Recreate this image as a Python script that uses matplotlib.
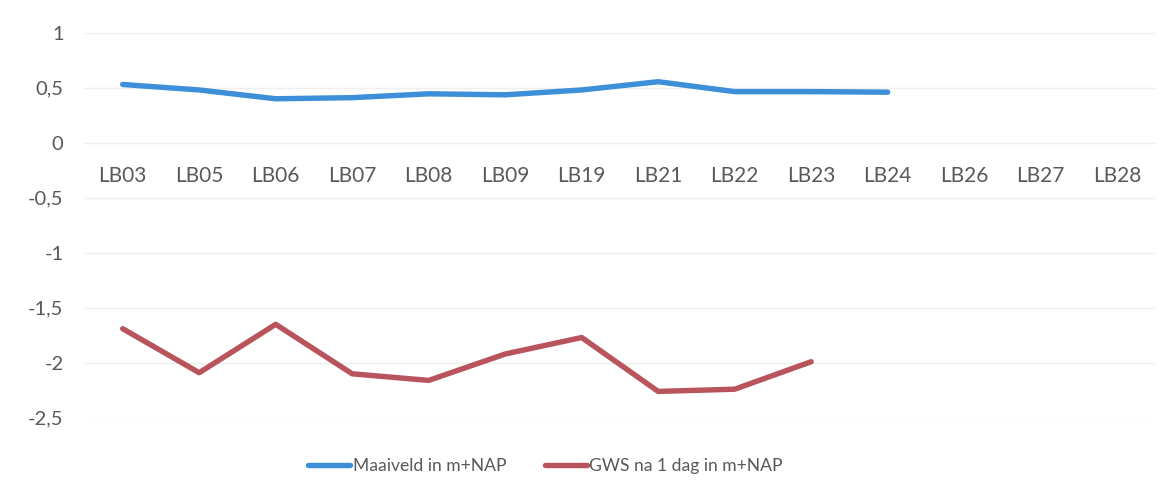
import matplotlib.pyplot as plt

# meetpunten
punten = ['LB03', 'LB05', 'LB06', 'LB07', 'LB08', 'LB09', 'LB19',
          'LB21', 'LB22', 'LB23', 'LB24', 'LB26', 'LB27', 'LB28']
maaiveld = [0.53, 0.48, 0.40, 0.41, 0.445, 0.436, 0.48, 0.555, 0.465, 0.465, 0.46]
gws_1dag = [-1.69, -2.09, -1.65, -2.10, -2.16, -1.92, -1.77, -2.26, -2.24, -1.99]
yticks = [1, 0.5, 0, -0.5, -1, -1.5, -2, -2.5]

plt.rcParams['font.family'] = ['Lato', 'DejaVu Sans']
grijs = '#595959'

fig = plt.figure(figsize=(11.73, 5.04), dpi=100)
ax = fig.add_axes([0.072, 0.171, 0.913, 0.764])

x = list(range(len(punten)))
ax.plot(x[:len(maaiveld)], maaiveld, color='#3d8fd9', lw=3.9,
        solid_capstyle='round', label='Maaiveld in m+NAP')
ax.plot(x[:len(gws_1dag)], gws_1dag, color='#b9545c', lw=3.9,
        solid_capstyle='round', label='GWS na 1 dag in m+NAP')

ax.set_xlim(-0.5, len(punten) - 0.5)
ax.set_ylim(-2.5, 1)
ax.set_yticks(yticks)
ax.set_yticklabels([str(v).replace('.', ',') if v % 1 else str(int(v)) for v in yticks])
ax.set_xticks(x)
ax.set_xticklabels(punten)
ax.spines['bottom'].set_position(('data', 0))
for s in ax.spines.values():
    s.set_visible(False)
ax.tick_params(axis='both', length=0, colors=grijs)
ax.tick_params(axis='x', pad=17, labelsize=15)
ax.tick_params(axis='y', pad=15, labelsize=14.5)
ax.grid(axis='y', color='#efefef', lw=1)
ax.set_axisbelow(True)

fig.legend(loc='center', bbox_to_anchor=(0.465, 0.075), ncol=2, frameon=False,
           fontsize=12.6, labelcolor=grijs, handlelength=2.4, handletextpad=0.15,
           columnspacing=2.2)

plt.savefig('out.png')
